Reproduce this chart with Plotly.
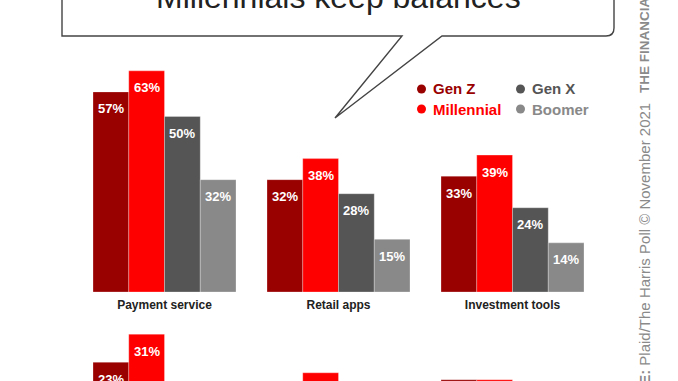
import plotly.graph_objects as go

# ---------------- data ----------------
series = ["Gen Z", "Millennial", "Gen X", "Boomer"]
colors = ["#990000", "#FF0000", "#555555", "#898989"]

row1_categories = ["Payment service", "Retail apps", "Investment tools"]
row1_genz = [57, 32, 33]
row1_millennial = [63, 38, 39]
row1_genx = [50, 28, 24]
row1_boomer = [32, 15, 14]

row2_categories = ["Budgeting apps", "Cryptocurrency", "Personal loans"]
row2_genz = [23, 16, 18]
row2_millennial = [31, 20, 18]
row2_genx = [15, 12, 11]
row2_boomer = [8, 5, 6]

title_text = "Millennials keep balances"
source_text = "<b>SOURCE:</b> Plaid/The Harris Poll © November 2021"
brand_text = "<b>THE FINANCIAL BRAND</b>"

# ---------------- layout helpers ----------------
W, H = 678, 381
FONT = "Liberation Sans, Arial, sans-serif"


def px(x):
    return x / W


def py(y):
    return 1 - y / H


PX_PER_PCT = 3.51
BASE1 = 292   # pixel row of zero line, top panel
BASE2 = 443   # pixel row of zero line, bottom panel (off-page)
TOP1 = 40
TOP2 = 318
X_LEFT, X_RIGHT = 77.5, 599.5
BARGAP = 31 / 174
cat_px = (X_RIGHT - X_LEFT) / 3
bar_px = cat_px * (1 - BARGAP) / 4

fig = go.Figure()

row1 = [row1_genz, row1_millennial, row1_genx, row1_boomer]
row2 = [row2_genz, row2_millennial, row2_genx, row2_boomer]

for i, name in enumerate(series):
    fig.add_trace(go.Bar(
        x=row1_categories, y=row1[i], name=name, marker_color=colors[i],
        marker_line=dict(width=0.8, color="rgba(255,255,255,0.35)"),
        xaxis="x", yaxis="y", showlegend=False, hoverinfo="skip"))
for i, name in enumerate(series):
    fig.add_trace(go.Bar(
        x=row2_categories, y=row2[i], name=name, marker_color=colors[i],
        marker_line=dict(width=0.8, color="rgba(255,255,255,0.35)"),
        xaxis="x2", yaxis="y2", showlegend=False, hoverinfo="skip"))

annotations = []
# value labels inside bars
for cats, rows, xr, yr in [(row1_categories, row1, "x", "y"),
                           (row2_categories, row2, "x2", "y2")]:
    for i in range(4):
        for c, v in zip(cats, rows[i]):
            annotations.append(dict(
                x=c, y=v, xref=xr, yref=yr, text=f"<b>{v}%</b>",
                showarrow=False, xshift=(i - 1.5) * bar_px, yshift=-17,
                font=dict(family=FONT, size=13, color="white"),
                xanchor="center", yanchor="middle"))

# legend (custom 2x2)
legend_items = [("Gen Z", 0, 0), ("Gen X", 1, 0), ("Millennial", 0, 1), ("Boomer", 1, 1)]
shapes = []
for name, col, row in legend_items:
    c = colors[series.index(name)]
    cx = 421.5 + col * 99
    cy = 89 + row * 20
    shapes.append(dict(type="circle", xref="paper", yref="paper",
                       x0=px(cx - 4.5), x1=px(cx + 4.5), y0=py(cy + 4.5), y1=py(cy - 4.5),
                       fillcolor=c, line=dict(width=0)))
    annotations.append(dict(x=px(cx + 9), y=py(cy), xref="paper", yref="paper",
                            text=f"<b>{name}</b>", showarrow=False,
                            xanchor="left", yanchor="middle",
                            font=dict(family=FONT, size=15, color=c)))

# speech bubble
L, R, B = 62, 614, 36
r = 8
path = (f"M {px(L)},{py(-10)} L {px(L)},{py(B)} L {px(402)},{py(B)} "
        f"L {px(335)},{py(118)} L {px(442)},{py(B)} L {px(R - r)},{py(B)} "
        f"Q {px(R)},{py(B)} {px(R)},{py(B - r)} L {px(R)},{py(-10)} Z")
shapes.append(dict(type="path", xref="paper", yref="paper", path=path,
                   fillcolor="white", line=dict(color="#444444", width=1.4),
                   layer="below"))

annotations.append(dict(x=px(338), y=py(10), xref="paper", yref="paper",
                        text=title_text, showarrow=False, xanchor="center",
                        yanchor="bottom", yshift=-7,
                        font=dict(family=FONT, size=32, color="#222222")))

# vertical source text
annotations.append(dict(x=px(644), y=py(101), xref="paper", yref="paper",
                        text=source_text, showarrow=False, textangle=-90,
                        xanchor="center", yanchor="top",
                        font=dict(family=FONT, size=15, color="#8a8a8a")))
annotations.append(dict(x=px(644), y=py(95), xref="paper", yref="paper",
                        text=brand_text, showarrow=False, textangle=-90,
                        xanchor="center", yanchor="bottom",
                        font=dict(family=FONT, size=13.5, color="#8a8a8a")))

axis_common = dict(showgrid=False, zeroline=False, showline=False, ticks="")

fig.update_layout(
    width=W, height=H,
    margin=dict(l=0, r=0, t=0, b=0),
    paper_bgcolor="white", plot_bgcolor="rgba(0,0,0,0)",
    barmode="group", bargap=BARGAP, bargroupgap=0,
    showlegend=False,
    font=dict(family=FONT, color="#222222"),
    xaxis=dict(domain=[px(X_LEFT), px(X_RIGHT)], range=[-0.5, 2.5],
               anchor="y", tickfont=dict(family=FONT, size=12, color="#222222", weight="bold"),
               ticklabelstandoff=4, **axis_common),
    yaxis=dict(domain=[py(BASE1), py(TOP1)],
               range=[0, (BASE1 - TOP1) / PX_PER_PCT],
               showticklabels=False, anchor="x", **axis_common),
    xaxis2=dict(domain=[px(X_LEFT), px(X_RIGHT)], range=[-0.5, 2.5],
                anchor="y2", showticklabels=False, **axis_common),
    yaxis2=dict(domain=[0, py(TOP2)],
                range=[(BASE2 - H) / PX_PER_PCT, (BASE2 - TOP2) / PX_PER_PCT],
                showticklabels=False, anchor="x2", **axis_common),
    annotations=annotations,
    shapes=shapes,
)

fig.write_html("out.html",
               config={"displayModeBar": False, "staticPlot": True},
               post_script="document.body.style.margin='0';document.body.style.overflow='hidden';")
